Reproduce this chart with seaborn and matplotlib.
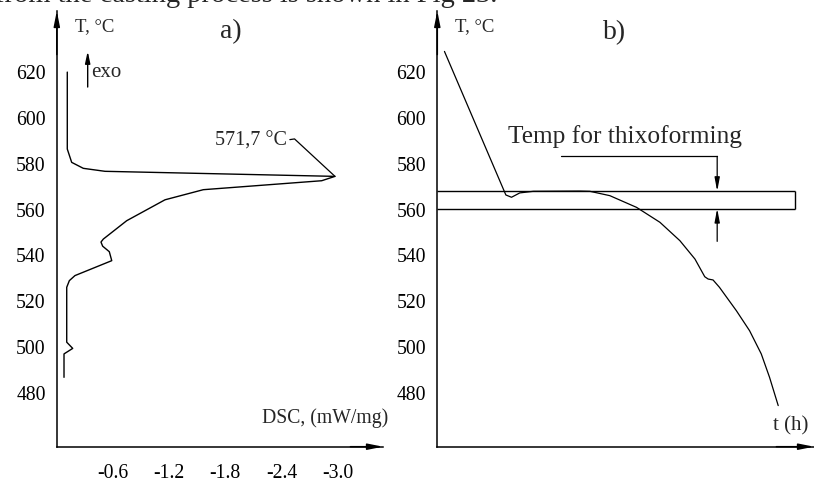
import numpy as np
import pandas as pd
import seaborn as sns
import matplotlib
matplotlib.use("Agg")
import matplotlib.pyplot as plt

# DSC curve (panel a): heat flow vs temperature
dsc_flow = [-0.112, -0.112, -0.159, -0.283, -0.515, -2.972, -2.830, -1.565, -1.156,
            -0.747, -0.497, -0.472, -0.490, -0.561, -0.587, -0.194, -0.134, -0.106,
            -0.106, -0.170, -0.077, -0.077]
dsc_temp = [619.4, 585.9, 580.1, 577.5, 576.2, 574.0, 572.1, 568.2, 563.8,
            554.7, 546.7, 545.4, 543.6, 541.2, 537.3, 530.8, 528.6, 525.7,
            501.8, 499.1, 496.7, 486.5]
peak_label = "571,7 °C"

# cooling curve (panel b): temperature vs time
cool_time = [0.19, 1.82, 1.97, 2.19, 2.55, 3.79, 4.05, 4.58, 5.29, 5.91, 6.44,
             6.84, 7.10, 7.19, 7.32, 7.49, 7.94, 8.29, 8.60, 8.82, 9.05]
cool_temp = [628.4, 565.9, 564.9, 566.8, 567.5, 567.6, 567.5, 565.6, 560.5, 554.0, 546.0,
             538.0, 530.3, 529.3, 528.9, 525.7, 515.5, 506.8, 496.7, 486.5, 474.2]

# thixoforming window
band_low = 560.0
band_high = 567.5
band_end = 9.49

y_ticks = [480, 500, 520, 540, 560, 580, 600, 620]
x_ticks_dsc = [-0.6, -1.2, -1.8, -2.4, -3.0]

sns.set_style("white")
plt.rcParams["font.family"] = ["Liberation Serif", "DejaVu Serif"]
plt.rcParams["axes.linewidth"] = 1.1

W, H = 814, 485
fig = plt.figure(figsize=(W / 100, H / 100), dpi=100)


def px_axes(x0, y0, x1, y1):
    return fig.add_axes([x0 / W, 1 - y1 / H, (x1 - x0) / W, (y1 - y0) / H])


def style_axes(ax):
    for s in ["top", "right"]:
        ax.spines[s].set_visible(False)
    ax.spines["left"].set_color("black")
    ax.spines["bottom"].set_color("black")
    ax.tick_params(direction="inout", length=8, width=1, colors="black",
                   labelsize=14.2, pad=4)
    arrow = dict(arrowstyle="-|>,head_length=0.9,head_width=0.18", color="black",
                 lw=1.1, shrinkA=0, shrinkB=0)
    ax.annotate("", xy=(0, 1), xytext=(0, 0.9), xycoords="axes fraction",
                arrowprops=arrow, annotation_clip=False)
    ax.annotate("", xy=(1, 0), xytext=(0.9, 0), xycoords="axes fraction",
                arrowprops=arrow, annotation_clip=False)
    ax.set_xlabel("")
    ax.set_ylabel("")


ylim = (456.3, 646.0)

# ---- panel a
ax1 = px_axes(56.8, 12, 383, 447.7)
df_a = pd.DataFrame({"dsc": dsc_flow, "T": dsc_temp})
sns.lineplot(data=df_a, x="dsc", y="T", sort=False, estimator=None,
             color="black", lw=1.0, ax=ax1)
ax1.set_xlim(0, -3.485)
ax1.set_ylim(*ylim)
ax1.set_xticks(x_ticks_dsc)
ax1.set_xticklabels([f"{v:.1f}" for v in x_ticks_dsc])
ax1.set_yticks(y_ticks)
style_axes(ax1)
ax1.tick_params(axis="x", pad=8)

ax1.text(-0.195, 639.5, "T, °C", fontsize=13.5, ha="left", va="center")
ax1.text(-1.86, 637.5, "a)", fontsize=20, ha="center", va="center")
ax1.annotate("", xy=(-0.33, 628.5), xytext=(-0.33, 612.9),
             arrowprops=dict(arrowstyle="-|>,head_length=0.7,head_width=0.15",
                             color="black", lw=1.0, shrinkA=0, shrinkB=0))
ax1.text(-0.37, 619.6, "exo", fontsize=15, ha="left", va="center")
ax1.text(-2.46, 590.0, peak_label, fontsize=14.5, ha="right", va="center")
ax1.plot([-2.49, -2.54, dsc_flow[5]], [590.0, 590.3, dsc_temp[5]], color="black", lw=0.9)
ax1.text(-3.54, 469.3, "DSC, (mW/mg)", fontsize=14.2, ha="right", va="center")

# ---- panel b
ax2 = px_axes(437.3, 12, 814, 447.7)
df_b = pd.DataFrame({"t": cool_time, "T": cool_temp})
sns.lineplot(data=df_b, x="t", y="T", sort=False, estimator=None,
             color="black", lw=0.9, ax=ax2)
ax2.set_xlim(0, 10)
ax2.set_ylim(*ylim)
ax2.set_xticks([])
ax2.set_yticks(y_ticks)
style_axes(ax2)

ax2.hlines([band_low, band_high], 0, band_end, color="black", lw=1.0)
ax2.vlines(band_end, band_low, band_high, color="black", lw=1.0)

arrow_x = 7.43
ax2.plot([3.28, arrow_x], [582.7, 582.7], color="black", lw=0.9)
ax2.annotate("", xy=(arrow_x, band_high), xytext=(arrow_x, 582.7),
             arrowprops=dict(arrowstyle="-|>,head_length=0.8,head_width=0.15",
                             color="black", lw=0.9, shrinkA=0, shrinkB=0))
ax2.annotate("", xy=(arrow_x, band_low), xytext=(arrow_x, 545.7),
             arrowprops=dict(arrowstyle="-|>,head_length=0.8,head_width=0.15",
                             color="black", lw=0.9, shrinkA=0, shrinkB=0))
ax2.text(4.98, 592.0, "Temp for thixoforming", fontsize=18.3, ha="center", va="center")
ax2.text(0.47, 639.5, "T, °C", fontsize=13.5, ha="left", va="center")
ax2.text(4.71, 637.0, "b)", fontsize=20, ha="center", va="center")
ax2.text(9.86, 465.6, "t (h)", fontsize=15, ha="right", va="center")

fig.text(497 / W, 1 - 1.5 / H, "from the casting process is shown in Fig 23.",
         fontsize=20.5, ha="right", va="baseline")

fig.savefig("out.png", dpi=100, facecolor="white")
